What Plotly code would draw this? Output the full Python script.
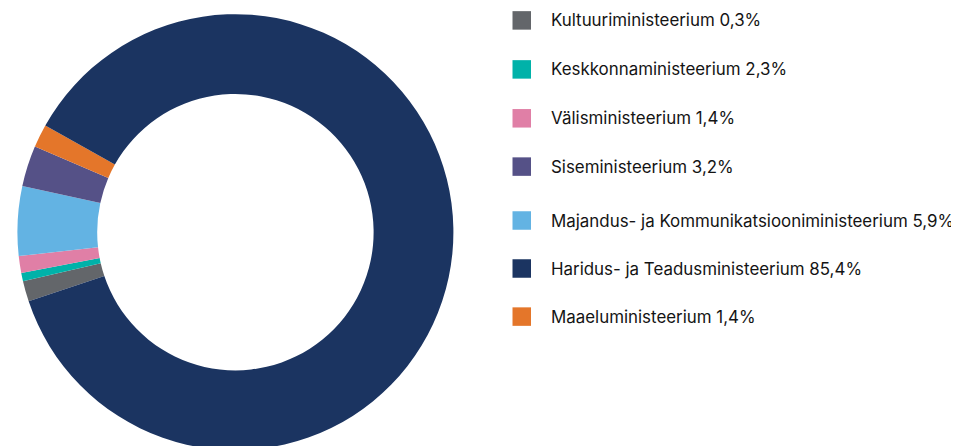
import plotly.graph_objects as go

W, H = 959, 446
OFF = 8  # page body margin: the figure is drawn 8px in from the window edge

# ---- data ----
legend_labels = [
    "Kultuuriministeerium",
    "Keskkonnaministeerium",
    "Välisministeerium",
    "Siseministeerium",
    "Majandus- ja Kommunikatsiooniministeerium",
    "Haridus- ja Teadusministeerium",
    "Maaeluministeerium",
]
legend_pct = ["0,3%", "2,3%", "1,4%", "3,2%", "5,9%", "85,4%", "1,4%"]

slice_labels = [
    "Kultuuriministeerium",
    "Keskkonnaministeerium",
    "Välisministeerium",
    "Majandus- ja Kommunikatsiooniministeerium",
    "Siseministeerium",
    "Maaeluministeerium",
    "Haridus- ja Teadusministeerium",
]
slice_values = [1.53, 0.61, 1.25, 5.14, 3.03, 1.72, 86.72]

# ---- styles ----
colour_of = {
    "Kultuuriministeerium": "#63666a",
    "Keskkonnaministeerium": "#00b2a9",
    "Välisministeerium": "#e07fa6",
    "Siseministeerium": "#555187",
    "Majandus- ja Kommunikatsiooniministeerium": "#63b3e3",
    "Haridus- ja Teadusministeerium": "#1b3461",
    "Maaeluministeerium": "#e4762a",
}
row_y = [20.4, 69.4, 118.3, 166.6, 220.5, 268.5, 316.6]  # page px from top
sq_x0, sq_size, text_x = 512.5, 18.5, 549.0

cx, cy, r = 235.4 - OFF, 232.2 - OFF, 218.0  # figure px

fig = go.Figure(go.Pie(
    labels=slice_labels,
    values=slice_values,
    sort=False,
    direction="clockwise",
    rotation=251.5,
    hole=0.634,
    marker=dict(colors=[colour_of[l] for l in slice_labels], line=dict(width=0)),
    textinfo="none",
    hoverinfo="label",
    showlegend=False,
    domain=dict(x=[(cx - r) / W, (cx + r) / W],
                y=[(H - cy - r) / H, (H - cy + r) / H]),
))

shapes, annotations = [], []
for lab, pct, yy in zip(legend_labels, legend_pct, row_y):
    y = yy - OFF
    shapes.append(dict(
        type="rect", xref="paper", yref="paper",
        x0=(sq_x0 - OFF) / W, x1=(sq_x0 - OFF + sq_size) / W,
        y0=1 - (y + sq_size / 2) / H, y1=1 - (y - sq_size / 2) / H,
        fillcolor=colour_of[lab], line=dict(width=0),
    ))
    annotations.append(dict(
        xref="paper", yref="paper", x=(text_x - OFF) / W, y=1 - y / H,
        xanchor="left", yanchor="middle", showarrow=False,
        text=f"{lab} {pct}",
        font=dict(family="Inter, Roboto, sans-serif", size=16.9, color="#141414"),
    ))

fig.update_layout(
    width=W, height=H,
    margin=dict(l=0, r=0, t=0, b=0),
    paper_bgcolor="white", plot_bgcolor="white",
    shapes=shapes, annotations=annotations,
)

fig.write_html("out.html")
